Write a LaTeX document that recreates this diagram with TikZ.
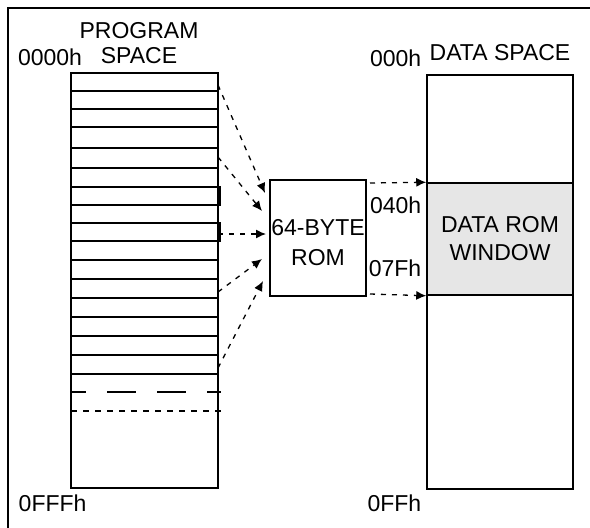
\documentclass[tikz,border=0pt]{standalone}
\usepackage{fontspec}
\setmainfont{Liberation Sans}
\usetikzlibrary{arrows.meta}
\definecolor{romgray}{HTML}{E6E6E6}
\begin{document}
\begin{tikzpicture}[x=1pt, y=-1pt, line width=1.5pt,
    lbl/.style={font=\fontsize{23}{25}\selectfont, inner sep=0pt, align=center},
    dashlink/.style={-{Latex[length=10pt,width=9pt]}, line width=1.3pt, dash pattern=on 5pt off 6pt}]
  \useasboundingbox (0,0) rectangle (590,528);
  % frame
  \draw (8,528) -- (8,8) -- (590,8);
  % program space
  \node[draw, inner sep=0pt, minimum width=147pt, minimum height=415pt] (prog) at (144.5,280.5) {};
  \foreach \y in {91,109,127,148,168,187,205,223,241,260,279,298,317,336,355,374} {
    \draw (71,\y) -- (218,\y);
  }
  \foreach \y in {187,223} {
    \draw[line width=2pt] (71,\y) rectangle (220,\y+18);
  }
  \draw[dash pattern=on 29pt off 21pt, dash phase=14pt] (71,392) -- (221,392);
  \draw[dash pattern=on 6pt off 6pt] (71,411) -- (221,411);
  \node[lbl] (progtitle) at (139,43) {PROGRAM\\SPACE};
  \node[lbl] (progtop) at (50,57) {0000h};
  \node[lbl, anchor=west] (progend) at (18,503) {0FFFh};
  % 64-byte rom
  \node[draw, inner sep=0pt, minimum width=96pt, minimum height=116pt] (rom) at (318,238) {};
  \node[lbl, font=\fontsize{23}{30}\selectfont] (romtxt) at (318,243) {64-BYTE\\ROM};
  % data space
  \node[draw, inner sep=0pt, minimum width=146pt, minimum height=414pt] (data) at (500,282) {};
  \node[draw, fill=romgray, inner sep=0pt, minimum width=146pt, minimum height=112pt,
        font=\fontsize{23}{28}\selectfont, align=center] (win) at (500,239) {DATA ROM\\WINDOW};
  \node[lbl] (datatitle) at (500,53) {DATA SPACE};
  \node[lbl, anchor=east] (datatop) at (422,58) {000h};
  \node[lbl, anchor=east] (winstart) at (422,205) {040h};
  \node[lbl, anchor=east] (winend) at (422,268) {07Fh};
  \node[lbl, anchor=east] (dataend) at (422,503) {0FFh};
  % links
  \foreach \i/\ys/\xe/\ye in {1/85/265/193, 2/157/262/211, 3/234/266/234, 4/292/262/259, 5/368/263/281} {
    \coordinate (src\i) at (218,\ys);
    \coordinate (dst\i) at (\xe,\ye);
    \draw[dashlink] (src\i) -- (dst\i);
  }
  \coordinate (out1) at (370,183);
  \coordinate (out2) at (370,294);
  \draw[dashlink] (out1) -- (win.north west);
  \draw[dashlink] (out2) -- (win.south west);
\end{tikzpicture}
\end{document}
